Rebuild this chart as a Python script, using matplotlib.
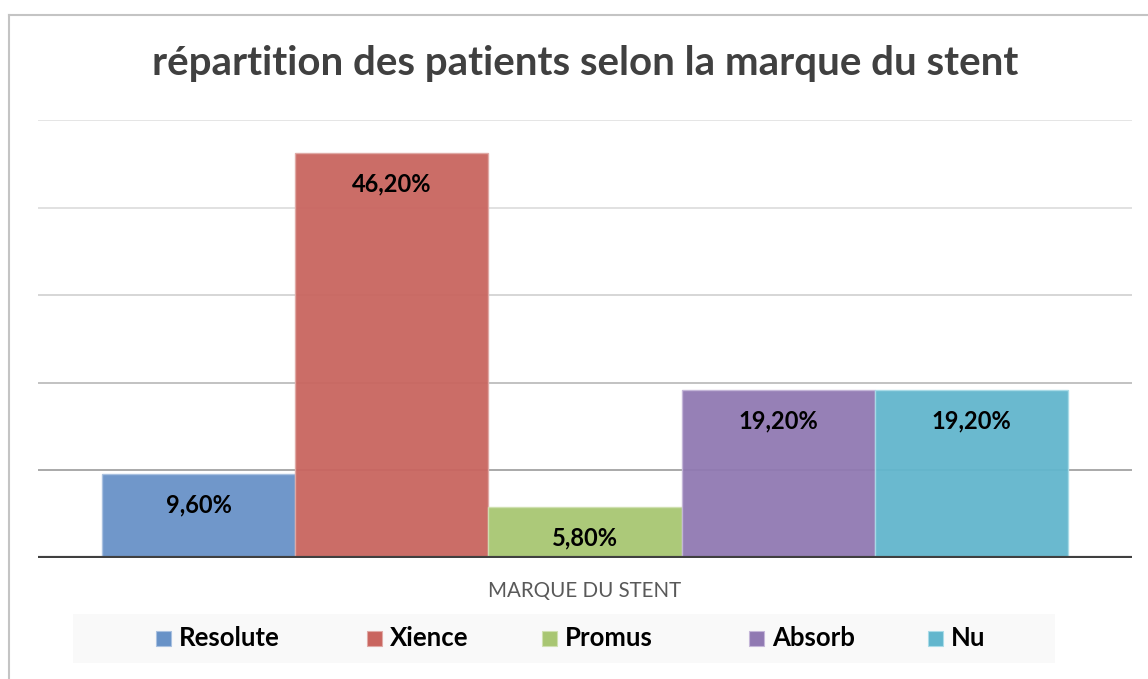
import matplotlib.pyplot as plt
from matplotlib.patches import Rectangle
from matplotlib.lines import Line2D

marques = ["Resolute", "Xience", "Promus", "Absorb", "Nu"]
pourcentages = [9.6, 46.2, 5.8, 19.2, 19.2]
etiquettes = ["9,60%", "46,20%", "5,80%", "19,20%", "19,20%"]
couleurs = ["#6892c7", "#c9655f", "#a8c672", "#9079b2", "#62b6cd"]
bords = ["#a9c1e0", "#e0aaa6", "#cfe0b0", "#c4b6d8", "#a9dbe8"]
graduations = [10, 20, 30, 40, 50]
couleurs_grille = ["#a3a3a3", "#bdbdbd", "#d3d3d3", "#dedede", "#e3e3e3"]

plt.rcParams["font.family"] = ["Lato", "DejaVu Sans"]

W, H = 1148, 679
fig = plt.figure(figsize=(W / 100, H / 100), dpi=100)
ax = fig.add_axes([38 / W, 121 / H, 1094 / W, 438 / H])

# cadre du graphique (gauche et haut)
fig.add_artist(Line2D([9 / W, 9 / W], [0, 1 - 15 / H], color="#c4c4c4", lw=1.5))
fig.add_artist(Line2D([9 / W, 1], [1 - 15 / H, 1 - 15 / H], color="#c4c4c4", lw=1.5))

for g, c in zip(graduations, couleurs_grille):
    ax.axhline(g, color=c, lw=1.3, zorder=1)

x = list(range(len(marques)))
ax.bar(x, pourcentages, width=1.0, color=couleurs, alpha=0.95,
       edgecolor=bords, linewidth=1.0, zorder=2)

ax.axhline(0, color="#404040", lw=3, zorder=4)

for xi, v, lab in zip(x, pourcentages, etiquettes):
    ax.annotate(lab, (xi, v), xytext=(0, -31), textcoords="offset pixels",
                ha="center", va="center", fontsize=17, fontweight="bold",
                color="black", zorder=5)

marge = 64 / 193.2
ax.set_xlim(-0.5 - marge, len(marques) - 0.5 + marge)
ax.set_ylim(0, 50)
ax.set_xticks([])
ax.set_yticks([])
for s in ax.spines.values():
    s.set_visible(False)
ax.patch.set_alpha(0)

fig.text(585 / W, 1 - 64 / H, "répartition des patients selon la marque du stent",
         ha="center", va="center", fontsize=29, fontweight="bold", color="#404040")
fig.text(585 / W, 1 - 591 / H, "MARQUE DU STENT", ha="center", va="center",
         fontsize=14.8, color="#595959")

# légende
fig.add_artist(Rectangle((73 / W, 1 - 663 / H), 982 / W, 49 / H,
                         transform=fig.transFigure, facecolor="#f9f9f9", edgecolor="none"))
legende_x = [156, 367, 542, 749, 928]
for lx, nom, c, b in zip(legende_x, marques, couleurs, bords):
    fig.add_artist(Rectangle((lx / W, 1 - 646 / H), 15 / W, 15 / H,
                             transform=fig.transFigure, facecolor=c, edgecolor=b, lw=0.8))
    fig.text((lx + 23) / W, 1 - 638.5 / H, nom, ha="left", va="center",
             fontsize=18.5, fontweight="bold", color="black")

fig.savefig("out.png", dpi=100)
